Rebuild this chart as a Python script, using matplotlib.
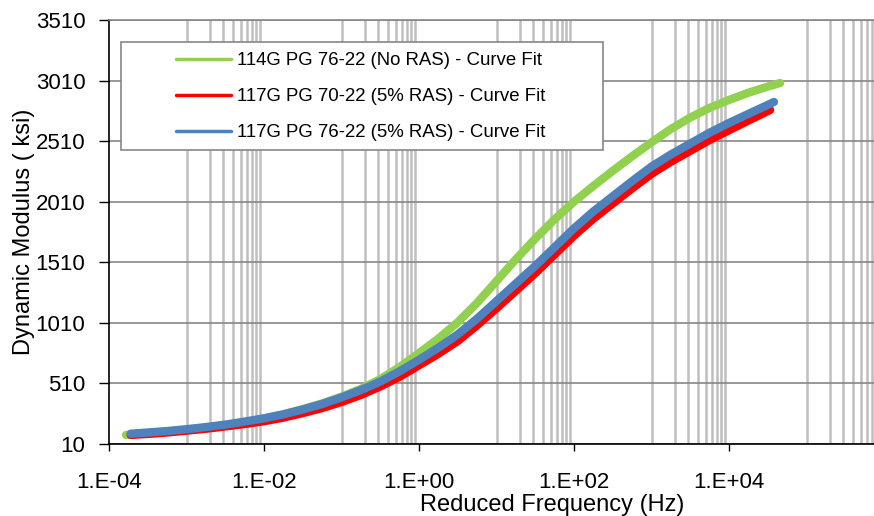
import numpy as np
import matplotlib
matplotlib.use('Agg')
import matplotlib.pyplot as plt
from matplotlib.patches import Rectangle
from matplotlib.ticker import FixedLocator, NullFormatter

plt.rcParams['font.family'] = ['Liberation Sans', 'DejaVu Sans']

# log10 of reduced frequency (Hz) and dynamic modulus (ksi)
green_logf = [-3.78, -3.5, -3.25, -3.0, -2.75, -2.5, -2.25, -2.0, -1.75, -1.5, -1.25, -1.0,
              -0.75, -0.5, -0.25, 0.0, 0.25, 0.5, 0.75, 1.0, 1.25, 1.5, 1.75, 2.0, 2.25,
              2.5, 2.75, 3.0, 3.25, 3.5, 3.75, 4.0, 4.25, 4.5, 4.66]
green_mod = [85, 100, 112, 128, 145, 165, 190, 220, 255, 298, 345, 400,
             465, 545, 645, 760, 880, 1015, 1175, 1355, 1535, 1705, 1865, 2010, 2140,
             2265, 2385, 2500, 2610, 2705, 2785, 2850, 2910, 2960, 2990]

red_logf = [-3.72, -3.5, -3.25, -3.0, -2.75, -2.5, -2.25, -2.0, -1.75, -1.5, -1.25, -1.0,
            -0.75, -0.5, -0.25, 0.0, 0.25, 0.5, 0.75, 1.0, 1.25, 1.5, 1.75, 2.0, 2.25,
            2.5, 2.75, 3.0, 3.25, 3.5, 3.75, 4.0, 4.25, 4.53]
red_mod = [85, 93, 105, 120, 136, 155, 175, 198, 228, 265, 307, 357,
           415, 485, 565, 660, 755, 860, 990, 1130, 1275, 1420, 1575, 1730, 1870,
           1995, 2120, 2240, 2340, 2430, 2520, 2600, 2680, 2767]

blue_logf = [-3.72, -3.5, -3.25, -3.0, -2.75, -2.5, -2.25, -2.0, -1.75, -1.5, -1.25, -1.0,
             -0.75, -0.5, -0.25, 0.0, 0.25, 0.5, 0.75, 1.0, 1.25, 1.5, 1.75, 2.0, 2.25,
             2.5, 2.75, 3.0, 3.25, 3.5, 3.75, 4.0, 4.25, 4.58]
blue_mod = [95, 105, 117, 132, 150, 170, 195, 222, 255, 295, 340, 395,
            455, 525, 610, 705, 805, 915, 1045, 1190, 1335, 1480, 1635, 1790, 1930,
            2055, 2180, 2300, 2400, 2490, 2580, 2660, 2735, 2833]

labels = ['114G PG 76-22 (No RAS) - Curve Fit',
          '117G PG 70-22 (5% RAS) - Curve Fit',
          '117G PG 76-22 (5% RAS) - Curve Fit']
colors = ['#92D050', '#FF0000', '#4F81BD']

y_ticks = [10, 510, 1010, 1510, 2010, 2510, 3010, 3510]
x_major = [1e-4, 1e-2, 1e0, 1e2, 1e4, 1e6]
x_major_labels = ['1.E-04', '1.E-02', '1.E+00', '1.E+02', '1.E+04', '']
grid_decades = [-3, -1, 1, 3, 5]

W, H = 874, 516
fig = plt.figure(figsize=(W / 100, H / 100), dpi=100)
ax = fig.add_axes([109 / W, 1 - 444 / H, 775 / W, 424 / H])

series = [(green_logf, green_mod), (red_logf, red_mod), (blue_logf, blue_mod)]
for (lf, m), c, lab in zip(series, colors, labels):
    f = [10 ** v for v in lf]
    ax.plot(f, m, color=c, lw=6, solid_capstyle='round', solid_joinstyle='round',
            label=lab, zorder=3)

ax.set_xscale('log')
ax.set_xlim(1e-4, 1e6)
ax.set_ylim(10, 3510)

ax.xaxis.set_major_locator(FixedLocator(x_major))
ax.set_xticklabels(x_major_labels)
minor = [m * 10.0 ** d for d in grid_decades for m in range(1, 10)]
ax.xaxis.set_minor_locator(FixedLocator(minor))
ax.xaxis.set_minor_formatter(NullFormatter())
ax.set_yticks(y_ticks)

ax.grid(False)
ax.grid(True, which='minor', axis='x', color='#BFBFBF', lw=1.8, zorder=0)
ax.grid(True, which='major', axis='y', color='#868686', lw=1.2, zorder=0)
ax.set_axisbelow(True)

ax.tick_params(axis='x', which='major', direction='out', length=5, width=1, pad=15,
               labelsize=16, colors='black')
ax.tick_params(axis='x', which='minor', length=0)
ax.tick_params(axis='y', direction='out', length=7, width=1, pad=10,
               labelsize=16, colors='black')

ax.spines['right'].set_visible(False)
ax.spines['top'].set_color('#868686')
ax.spines['top'].set_linewidth(1.2)
for s in ['left', 'bottom']:
    ax.spines[s].set_color('black')
    ax.spines[s].set_linewidth(1.2)

ax.set_xlabel('Reduced Frequency (Hz)', fontsize=17)
ax.xaxis.set_label_coords(0.572, -0.118)
ax.set_ylabel('Dynamic Modulus ( ksi)', fontsize=17)
ax.yaxis.set_label_coords(-0.096, 0.5)

# legend box
box = Rectangle((121 / W, 1 - 150 / H), 482 / W, 108 / H, transform=fig.transFigure,
                facecolor='white', edgecolor='#868686', lw=1.2, zorder=4, clip_on=False)
ax.add_patch(box)
leg = ax.legend(loc='upper left', bbox_to_anchor=(176 / W, 1 - 52 / H),
                bbox_transform=fig.transFigure, frameon=False, fontsize=13.4,
                handlelength=2.95, handletextpad=0.35, labelspacing=1.03,
                borderpad=0, borderaxespad=0)
for h in leg.get_lines():
    h.set_linewidth(2.5)
leg.set_zorder(5)

fig.savefig('out.png', dpi=100)
